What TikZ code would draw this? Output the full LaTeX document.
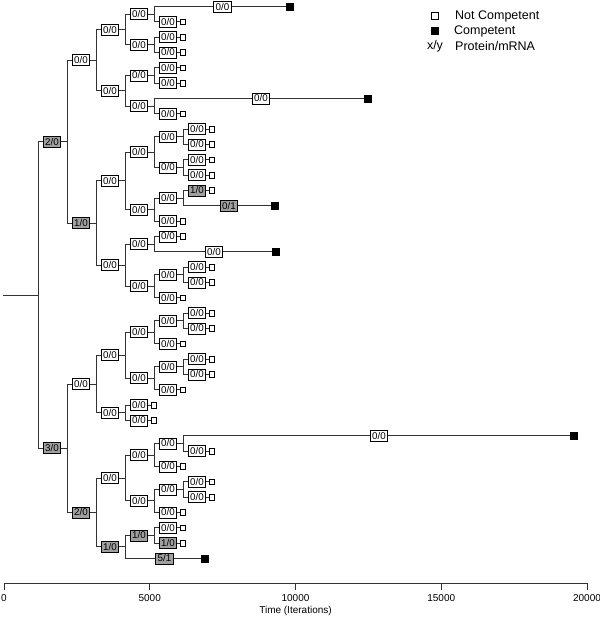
\documentclass[tikz,border=0pt]{standalone}
\usepackage{fontspec}
\setmainfont{Liberation Sans}
\definecolor{boxgray}{RGB}{160,160,160}
\definecolor{linegray}{RGB}{50,50,50}
\pgfmathdeclarefunction{rowy}{1}{\pgfmathparse{6.5+15.33*#1}}
\tikzset{
  lbl/.style={draw=black, line width=0.7pt, fill=white, minimum width=17.5pt, minimum height=11pt, inner sep=0pt, font=\fontsize{9.8}{9.8}\selectfont},
  glbl/.style={lbl, fill=boxgray},
  nc/.style={draw=black, line width=0.6pt, fill=white, minimum size=5.5pt, inner sep=0pt},
  comp/.style={draw=black, fill=black, minimum size=7pt, inner sep=0pt},
  edge/.style={draw=linegray, line width=0.8pt},
  axlbl/.style={font=\fontsize{10}{10}\selectfont, inner sep=0pt},
  lglbl/.style={font=\fontsize{12.5}{12.5}\selectfont, inner sep=0pt, anchor=west},
}
\newcommand\mkleaf[5][lbl]{%
  \node[#1] (#2) at ({#3},{rowy(#4)}) {#5};
  \node[nc] (#2s) at ([xshift=5.5pt]#2.east) {};
  \draw[edge] (#2.east) -- (#2s.west);
}
\newcommand\mkint[5][lbl]{\node[#1] (#2) at ({#3},{rowy(#4)}) {#5};}
\newcommand\kids[2]{\foreach \kd in {#2} {\draw[edge] (#1.east) -- ++(6.5,0) |- (\kd.west);}}
\begin{document}
\begin{tikzpicture}[x=1pt,y=-1pt]
\useasboundingbox (0,0) rectangle (600,619);
% ---------- top half
\mkint[glbl]{A}{52}{8.8125}{2/0}
\mkint{a}{81}{3.5}{0/0}
\mkint{aa}{110}{1.5}{0/0}
\mkint{aaa}{139}{0.5}{0/0}
\mkint{aaaa}{222.5}{0}{0/0}
\node[comp] (aaaak) at (290,{rowy(0)}) {};
\mkleaf{aaab}{168}{1}{0/0}
\mkint{aab}{139}{2.5}{0/0}
\mkleaf{aaba}{168}{2}{0/0}
\mkleaf{aabb}{168}{3}{0/0}
\mkint{ab}{110}{5.5}{0/0}
\mkint{aba}{139}{4.5}{0/0}
\mkleaf{abaa}{168}{4}{0/0}
\mkleaf{abab}{168}{5}{0/0}
\mkint{abb}{139}{6.5}{0/0}
\mkint{abba}{261}{6}{0/0}
\node[comp] (abbak) at (368,{rowy(6)}) {};
\mkleaf{abbb}{168}{7}{0/0}
\mkint[glbl]{b}{81}{14.125}{1/0}
\mkint{ba}{110}{11.375}{0/0}
\mkint{baa}{139}{9.5}{0/0}
\mkint{baaa}{168}{8.5}{0/0}
\mkleaf{baaaa}{197}{8}{0/0}
\mkleaf{baaab}{197}{9}{0/0}
\mkint{baab}{168}{10.5}{0/0}
\mkleaf{baaba}{197}{10}{0/0}
\mkleaf{baabb}{197}{11}{0/0}
\mkint{bab}{139}{13.25}{0/0}
\mkint{baba}{168}{12.5}{0/0}
\mkleaf[glbl]{babaa}{197}{12}{1/0}
\mkint[glbl]{babab}{229}{13}{0/1}
\node[comp] (bababk) at (275,{rowy(13)}) {};
\mkleaf{babb}{168}{14}{0/0}
\mkint{bb}{110}{16.875}{0/0}
\mkint{bba}{139}{15.5}{0/0}
\mkleaf{bbaa}{168}{15}{0/0}
\mkint{bbab}{214}{16}{0/0}
\node[comp] (bbabk) at (276,{rowy(16)}) {};
\mkint{bbb}{139}{18.25}{0/0}
\mkint{bbba}{168}{17.5}{0/0}
\mkleaf{bbbaa}{197}{17}{0/0}
\mkleaf{bbbab}{197}{18}{0/0}
\mkleaf{bbbb}{168}{19}{0/0}
% ---------- bottom half
\mkint[glbl]{B}{52}{28.8125}{3/0}
\mkint{c}{81}{24.625}{0/0}
\mkint{ca}{110}{22.75}{0/0}
\mkint{caa}{139}{21.25}{0/0}
\mkint{caaa}{168}{20.5}{0/0}
\mkleaf{caaaa}{197}{20}{0/0}
\mkleaf{caaab}{197}{21}{0/0}
\mkleaf{caab}{168}{22}{0/0}
\mkint{cab}{139}{24.25}{0/0}
\mkint{caba}{168}{23.5}{0/0}
\mkleaf{cabaa}{197}{23}{0/0}
\mkleaf{cabab}{197}{24}{0/0}
\mkleaf{cabb}{168}{25}{0/0}
\mkint{cb}{110}{26.5}{0/0}
\mkleaf{cba}{139}{26}{0/0}
\mkleaf{cbb}{139}{27}{0/0}
\mkint[glbl]{d}{81}{33}{2/0}
\mkint{da}{110}{30.75}{0/0}
\mkint{daa}{139}{29.25}{0/0}
\mkint{daaa}{168}{28.5}{0/0}
\mkint{daaaa}{379}{28}{0/0}
\node[comp] (daaaak) at (574,{rowy(28)}) {};
\mkleaf{daaab}{197}{29}{0/0}
\mkleaf{daab}{168}{30}{0/0}
\mkint{dab}{139}{32.25}{0/0}
\mkint{daba}{168}{31.5}{0/0}
\mkleaf{dabaa}{197}{31}{0/0}
\mkleaf{dabab}{197}{32}{0/0}
\mkleaf{dabb}{168}{33}{0/0}
\mkint[glbl]{db}{110}{35.25}{1/0}
\mkint[glbl]{dba}{139}{34.5}{1/0}
\mkleaf{dbaa}{168}{34}{0/0}
\mkleaf[glbl]{dbab}{168}{35}{1/0}
\mkint[glbl]{dbb}{164.5}{36}{5/1}
\node[comp] (dbbk) at (205,{rowy(36)}) {};
% ---------- connectors
\coordinate (r0) at (3,{rowy(18.8125)});
\coordinate (rj) at (38,{rowy(18.8125)});
\draw[edge] (r0) -- (rj);
\draw[edge] (rj) |- (A.west);
\draw[edge] (rj) |- (B.west);
\kids{A}{a,b}
\kids{a}{aa,ab}
\kids{aa}{aaa,aab}
\kids{aaa}{aaaa,aaab}
\kids{aab}{aaba,aabb}
\kids{ab}{aba,abb}
\kids{aba}{abaa,abab}
\kids{abb}{abba,abbb}
\kids{b}{ba,bb}
\kids{ba}{baa,bab}
\kids{baa}{baaa,baab}
\kids{baaa}{baaaa,baaab}
\kids{baab}{baaba,baabb}
\kids{bab}{baba,babb}
\kids{baba}{babaa,babab}
\kids{bb}{bba,bbb}
\kids{bba}{bbaa,bbab}
\kids{bbb}{bbba,bbbb}
\kids{bbba}{bbbaa,bbbab}
\kids{B}{c,d}
\kids{c}{ca,cb}
\kids{ca}{caa,cab}
\kids{caa}{caaa,caab}
\kids{caaa}{caaaa,caaab}
\kids{cab}{caba,cabb}
\kids{caba}{cabaa,cabab}
\kids{cb}{cba,cbb}
\kids{d}{da,db}
\kids{da}{daa,dab}
\kids{daa}{daaa,daab}
\kids{daaa}{daaaa,daaab}
\kids{dab}{daba,dabb}
\kids{daba}{dabaa,dabab}
\kids{db}{dba,dbb}
\kids{dba}{dbaa,dbab}
\draw[edge] (aaaa.east) -- (aaaak.west);
\draw[edge] (abba.east) -- (abbak.west);
\draw[edge] (babab.east) -- (bababk.west);
\draw[edge] (bbab.east) -- (bbabk.west);
\draw[edge] (daaaa.east) -- (daaaak.west);
\draw[edge] (dbb.east) -- (dbbk.west);
% ---------- axis
\coordinate (ax0) at (4,583);
\coordinate (ax1) at (587,583);
\draw[edge] (ax0) -- (ax1);
\foreach \k/\lab/\nm in {0/0/t0,5/5000/t1,10/10000/t2,15/15000/t3,20/20000/t4} {
  \draw[edge] ({4+\k*29.15},583) -- ++(0,7);
  \node[axlbl] (\nm) at ({4+\k*29.15},598) {\lab};
}
\node[axlbl] (xtitle) at (295.5,611) {Time (Iterations)};
% ---------- legend
\node[nc, minimum size=7pt] (lg1) at (435,16) {};
\node[comp] (lg2) at (435,31) {};
\node[lglbl, anchor=center] (lg3) at (435,46) {x/y};
\node[lglbl] (lt1) at (455,16) {Not Competent};
\node[lglbl] (lt2) at (454,31) {Competent};
\node[lglbl] (lt3) at (455,46) {Protein/mRNA};
\end{tikzpicture}
\end{document}
